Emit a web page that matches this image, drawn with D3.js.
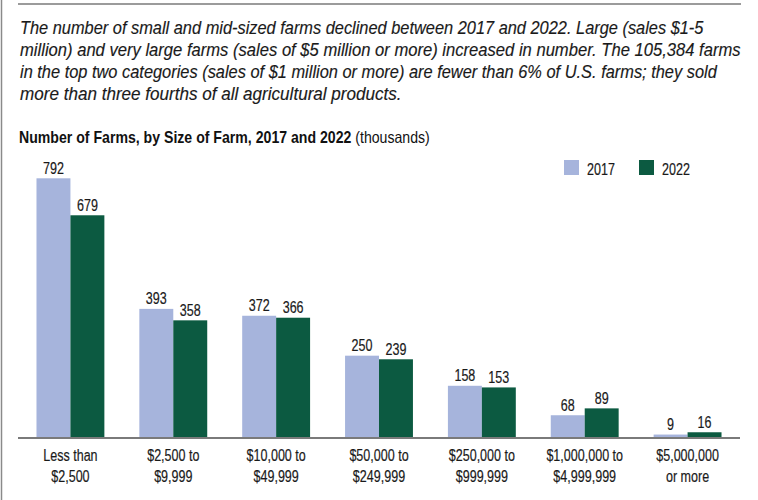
<!DOCTYPE html>
<html>
<head>
<meta charset="utf-8">
<script src="https://cdn.jsdelivr.net/npm/d3@7/dist/d3.min.js"></script>
<style>
  html, body { margin: 0; padding: 0; background: #fff; }
  svg { display: block; }
</style>
</head>
<body>
<svg id="chart" width="758" height="500"></svg>
<script>
const categories = [
  ["Less than", "$2,500"],
  ["$2,500 to", "$9,999"],
  ["$10,000 to", "$49,999"],
  ["$50,000 to", "$249,999"],
  ["$250,000 to", "$999,999"],
  ["$1,000,000 to", "$4,999,999"],
  ["$5,000,000", "or more"]
];
const values2017 = [792, 393, 372, 250, 158, 68, 9];
const values2022 = [679, 358, 366, 239, 153, 89, 16];
const seriesNames = ["2017", "2022"];
const seriesColors = ["#a6b4dc", "#0c5a41"];
const introLines = [
  "The number of small and mid-sized farms declined between 2017 and 2022. Large (sales $1-5",
  "million) and very large farms (sales of $5 million or more) increased in number. The 105,384 farms",
  "in the top two categories (sales of $1 million or more) are fewer than 6% of U.S. farms; they sold",
  "more than three fourths of all agricultural products."
];
const introWidths = [684, 721, 698, 382];
const titleBold = "Number of Farms, by Size of Farm, 2017 and 2022";
const titleUnit = " (thousands)";

const font = "'Liberation Sans', Arial, sans-serif";
const SX = 0.76; // horizontal condensing factor
const svg = d3.select("#chart");

function condensed(sel, x, y, anchor) {
  return sel.attr("x", 0).attr("y", 0)
    .attr("text-anchor", anchor || "start")
    .attr("transform", `translate(${x},${y}) scale(${SX},1)`);
}
function fitWidth(sel, x, y, target) {
  sel.attr("x", 0).attr("y", 0);
  const w = sel.node().getComputedTextLength();
  sel.attr("transform", `translate(${x},${y}) scale(${target / w},1)`);
}

// frame lines
svg.append("line").attr("x1", 18).attr("x2", 741).attr("y1", 4).attr("y2", 4)
  .attr("stroke", "#7a7a7a").attr("stroke-width", 1.5);
svg.append("line").attr("x1", 1.5).attr("x2", 1.5).attr("y1", 0).attr("y2", 500)
  .attr("stroke", "#8a8a8a").attr("stroke-width", 1.5);

// intro paragraph
introLines.forEach((l, i) => {
  const t = svg.append("text")
    .attr("font-family", font).attr("font-style", "italic").attr("font-size", 17.5)
    .attr("fill", "#1a1a1a")
    .attr("stroke", "#1a1a1a").attr("stroke-width", 0.15)
    .text(l);
  fitWidth(t, 20, 34.3 + i * 22, introWidths[i]);
});

// title
const title = svg.append("text")
  .attr("font-family", font).attr("font-size", 16.5).attr("fill", "#111");
title.append("tspan").attr("font-weight", "bold").text(titleBold);
title.append("tspan").text(titleUnit);
fitWidth(title, 19, 143, 411);

// scales
const x0 = d3.scaleBand().domain(d3.range(categories.length))
  .range([19, 739]).paddingInner(0.34).paddingOuter(0.17);
const x1 = d3.scaleBand().domain(seriesNames).range([0, x0.bandwidth()]);
const y = d3.scaleLinear().domain([0, 792]).range([437.5, 178.3]);

const data = categories.map((c, i) => ({ cat: i, vals: [values2017[i], values2022[i]] }));

const groups = svg.append("g").selectAll("g").data(data).join("g")
  .attr("transform", d => `translate(${x0(d.cat)},0)`);

groups.selectAll("rect").data(d => d.vals.map((v, k) => ({ k, v }))).join("rect")
  .attr("x", d => x1(seriesNames[d.k]))
  .attr("width", x1.bandwidth())
  .attr("y", d => y(d.v))
  .attr("height", d => y(0) - y(d.v))
  .attr("fill", d => seriesColors[d.k]);

groups.selectAll("text.val").data(d => d.vals.map((v, k) => ({ k, v }))).join("text")
  .attr("class", "val")
  .attr("font-family", font).attr("font-size", 16.5).attr("fill", "#1a1a1a")
  .attr("stroke", "#1a1a1a").attr("stroke-width", 0.2)
  .each(function (d) {
    condensed(d3.select(this), x1(seriesNames[d.k]) + x1.bandwidth() / 2, y(d.v) - 4.5, "middle");
  })
  .text(d => d.v);

// axis baseline
svg.append("line").attr("x1", 18).attr("x2", 740).attr("y1", y(0) + 0.5).attr("y2", y(0) + 0.5)
  .attr("stroke", "#7a7a7a").attr("stroke-width", 2);

// category labels
data.forEach(d => {
  const cx = x0(d.cat) + x0.bandwidth() / 2;
  categories[d.cat].forEach((line, j) => {
    const t = svg.append("text")
      .attr("font-family", font).attr("font-size", 16.5).attr("fill", "#1a1a1a")
      .attr("stroke", "#1a1a1a").attr("stroke-width", 0.2)
      .text(line);
    condensed(t, cx, 460.5 + j * 21, "middle");
  });
});

// legend
const legend = svg.append("g").selectAll("g").data(seriesNames).join("g")
  .attr("transform", (d, i) => `translate(${564 + i * 75},160)`);
legend.append("rect").attr("width", 15).attr("height", 15)
  .attr("fill", (d, i) => seriesColors[i]);
legend.append("text")
  .attr("font-family", font).attr("font-size", 16.5).attr("fill", "#1a1a1a")
  .attr("stroke", "#1a1a1a").attr("stroke-width", 0.2)
  .each(function () { condensed(d3.select(this), 23, 14.5); })
  .text(d => d);
</script>
</body>
</html>
